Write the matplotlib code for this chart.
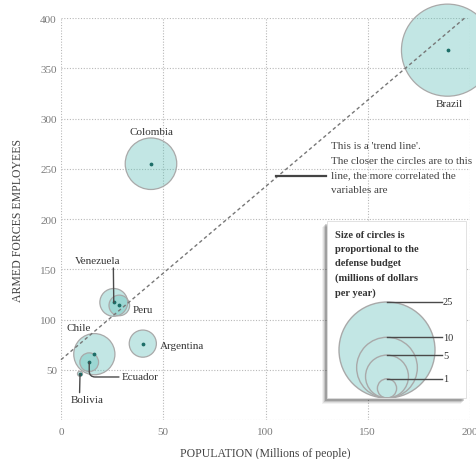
import numpy as np
import matplotlib as mpl
mpl.use('Agg')
import matplotlib.pyplot as plt
from matplotlib.patches import Rectangle, Circle

plt.rcParams['font.family'] = ['Liberation Serif', 'DejaVu Serif']

# data
countries = ['Brazil', 'Colombia', 'Venezuela', 'Peru', 'Argentina', 'Chile', 'Ecuador', 'Bolivia']
population = [189, 44, 25.8, 28.5, 40, 16.3, 13.8, 9.3]      # millions of people
armed_forces = [368, 255, 117, 114, 76, 65.5, 57.5, 46]      # thousands employed
budget = [23, 7.2, 2.1, 1.15, 2.0, 4.6, 0.95, 0.07]          # defense budget

trend_x = [0, 198]
trend_y = [60, 401]

legend_budgets = [25, 10, 5, 1]

x_ticks = [0, 50, 100, 150, 200]
y_ticks = [0, 50, 100, 150, 200, 250, 300, 350, 400]

DPI = 100
PX_PER_ROOT = 9.6   # circle radius in pixels per sqrt(budget)

fill = '#5fbfb8'
edge = '#a9a9a9'
dark = '#4a4a4a'


def bubble_size(b):
    # scatter size (points^2) so that radius = PX_PER_ROOT * sqrt(b) pixels
    r_pt = PX_PER_ROOT * np.sqrt(b) * 72.0 / DPI
    return (2 * r_pt) ** 2


fig = plt.figure(figsize=(4.76, 4.60), dpi=DPI)
ax = fig.add_axes([61 / 476, 39 / 460, 409 / 476, 402 / 460])

ax.set_xlim(0, 200)
ax.set_ylim(0, 400)
for s in ax.spines.values():
    s.set_visible(False)
ax.set_xticks(x_ticks)
ax.set_yticks(y_ticks)
ax.set_yticklabels(['' if v == 0 else str(v) for v in y_ticks])
ax.tick_params(length=0, labelsize=8, colors='#7a7a7a')
ax.tick_params(axis='y', pad=3)
ax.tick_params(axis='x', pad=5)
ax.grid(True, color='#b8b8b8', linestyle=(0, (1, 1.5)), linewidth=0.8)
ax.set_axisbelow(True)

ax.set_xlabel('POPULATION (Millions of people)', fontsize=8.5, color='#444444', labelpad=8)
ax.set_ylabel('ARMED FORCES EMPLOYEES', fontsize=8.5, color='#444444', labelpad=12)

# trend line
ax.plot(trend_x, trend_y, color='#777777', linestyle=(0, (2.5, 2)), linewidth=1, zorder=4, clip_on=False)

# bubbles
sizes = [bubble_size(b) for b in budget]
ax.scatter(population, armed_forces, s=sizes, facecolor=fill, alpha=0.38, edgecolor='none',
           zorder=2, clip_on=False)
ax.scatter(population, armed_forces, s=sizes, facecolor='none', edgecolor=edge, linewidth=0.9,
           zorder=3, clip_on=False)
ax.scatter(population, armed_forces, s=3, color='#1d6e68', zorder=5, clip_on=False)

lab = dict(fontsize=8, color='#333333', zorder=6)
ax.text(190, 315, 'Brazil', ha='center', va='center', **lab)
ax.text(44, 287, 'Colombia', ha='center', va='center', **lab)
ax.text(35.1, 110.4, 'Peru', ha='left', va='center', **lab)
ax.text(48.4, 74, 'Argentina', ha='left', va='center', **lab)
ax.text(8.5, 92, 'Chile', ha='center', va='center', **lab)

lead = dict(arrowstyle='-', color=dark, lw=1, shrinkA=0, shrinkB=0)
ax.annotate('Venezuela', xy=(25.8, 117), xytext=(17.8, 158.5), ha='center', va='center',
            arrowprops=dict(relpos=(0.85, 0), **lead), **lab)
ax.annotate('Bolivia', xy=(9.3, 46), xytext=(12.6, 20), ha='center', va='center',
            arrowprops=dict(relpos=(0.28, 1), **lead), **lab)
ax.annotate('Ecuador', xy=(13.8, 57.5), xytext=(29.7, 42.8), ha='left', va='center',
            arrowprops=dict(relpos=(0, 0.5), connectionstyle='angle,angleA=0,angleB=90,rad=6', **lead),
            **lab)

# trend line note
ax.plot([105.1, 129.6], [243, 243], color='#444444', linewidth=1.6, zorder=6, clip_on=False)
ax.text(132, 251.3, "This is a 'trend line'.\nThe closer the circles are to this\nline, the more correlated the\nvariables are",
        ha='left', va='center', fontsize=8, color='#444444', linespacing=1.8, zorder=6)

# size legend box, drawn in pixel units
lw_px, lh_px = 139, 177
lax = fig.add_axes([327 / 476, (460 - 399) / 460, lw_px / 476, lh_px / 460], zorder=5)
lax.set_xlim(0, lw_px)
lax.set_ylim(0, lh_px)
lax.axis('off')
for i, a in enumerate([0.05, 0.08, 0.12, 0.18]):
    off = 5 - i
    lax.add_patch(Rectangle((-off, -off - 1), lw_px, lh_px, facecolor='#000000', alpha=a,
                            edgecolor='none', clip_on=False, zorder=1))
lax.add_patch(Rectangle((0, 0), lw_px, lh_px, facecolor='white', edgecolor='#dddddd',
                        linewidth=0.6, clip_on=False, zorder=2))
lax.text(8, 168, 'Size of circles is\nproportional to the\ndefense budget\n(millions of dollars\nper year)',
         ha='left', va='top', fontsize=7.5, fontweight='bold', color='#333333', linespacing=1.72, zorder=4)

cx = 60
for i, b in enumerate(legend_budgets):
    r = PX_PER_ROOT * np.sqrt(b)
    if i == 0:
        lax.add_patch(Circle((cx, r), r, facecolor=fill, alpha=0.38, edgecolor='none', zorder=3))
    lax.add_patch(Circle((cx, r), r, facecolor='none', edgecolor=edge, linewidth=1, zorder=3))
    lax.plot([cx, 114.7], [2 * r, 2 * r], color=dark, linewidth=1, zorder=4)
    lax.text(116, 2 * r, str(b), ha='left', va='center', fontsize=7.5, color='#333333', zorder=4)

fig.savefig('out.png', dpi=DPI)
